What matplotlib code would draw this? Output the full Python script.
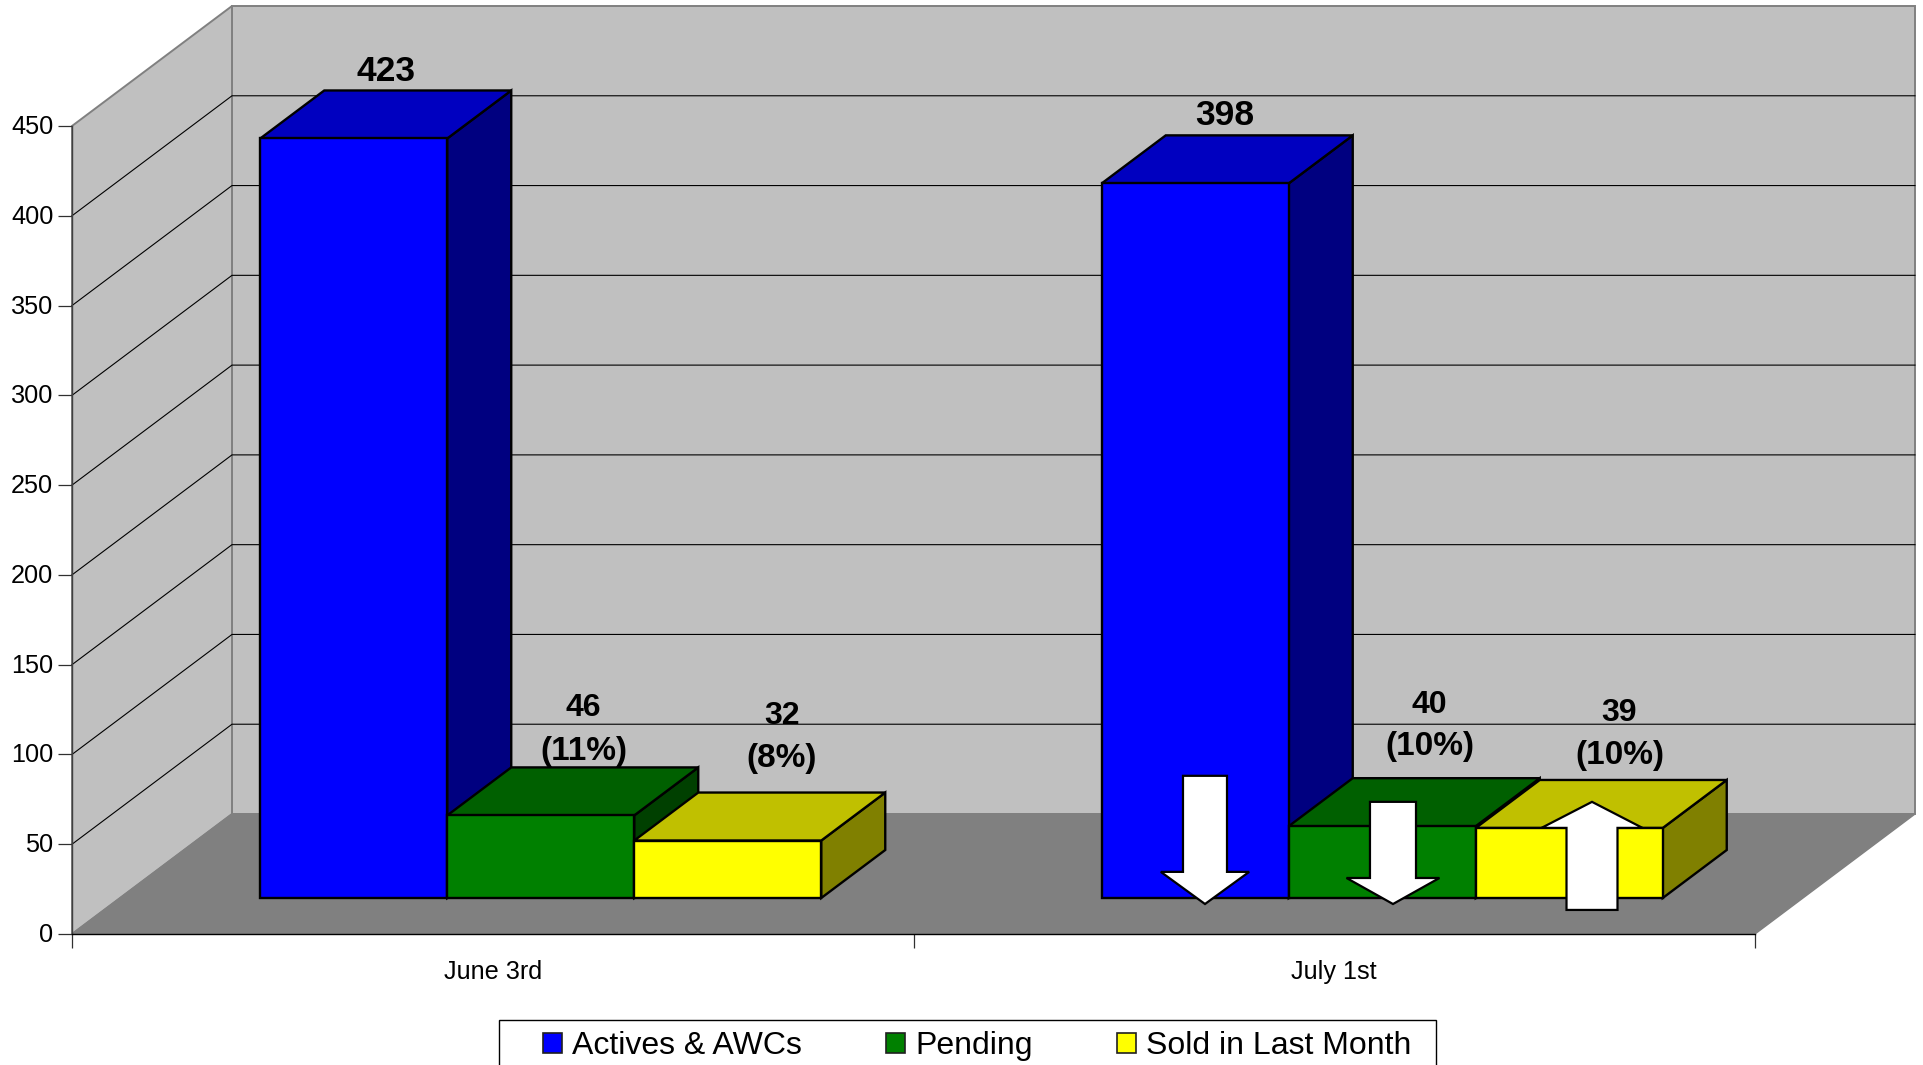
#!/usr/bin/python3
from matplotlib import pyplot as plt
from matplotlib.patches import FancyArrow, Polygon, Rectangle
from matplotlib.transforms import ScaledTranslation

categories = ['June 3rd', 'July 1st']
series_names = ['Actives & AWCs', 'Pending', 'Sold in Last Month']
actives = [423, 398]
pending = [46, 40]
sold = [32, 39]
pending_pct = ['(11%)', '(10%)']
sold_pct = ['(8%)', '(10%)']
y_ticks = [0, 50, 100, 150, 200, 250, 300, 350, 400, 450]

# front, top and side colour of each series
front_colors = ['#0000ff', '#008000', '#ffff00']
top_colors = ['#0000c0', '#006000', '#c0c000']
side_colors = ['#000080', '#004000', '#808000']

W, H = 1923, 1065
LEFT, RIGHT, BOTTOM, TOP = 72, 1755, 934, 126
# how far the back of the box sits from the front, in data units
DEPTH_X = 160 / ( ( RIGHT - LEFT ) / 2 )
DEPTH_Y = 120 / ( ( BOTTOM - TOP ) / 450 )
BAR_NEAR, BAR_FAR = 0.3, 0.7
BAR_W = 2 / 9
GROUP_GAP = 1 / 6

plt.rcParams['font.family'] = ['Liberation Sans', 'DejaVu Sans']


def proj( x, v, d ):
  return x + d * DEPTH_X, v + d * DEPTH_Y


def face( ax, points, color, edge='black', lw=1.7, z=2 ):
  ax.add_patch( Polygon( [ proj( *p ) for p in points ], closed=True, facecolor=color,
                         edgecolor=edge, linewidth=lw, joinstyle='miter', clip_on=False, zorder=z ) )


def bar3d( ax, x, v, i, z ):
  n, f = BAR_NEAR, BAR_FAR
  w = BAR_W
  face( ax, [ ( x + w, 0, n ), ( x + w, 0, f ), ( x + w, v, f ), ( x + w, v, n ) ], side_colors[i], z=z )
  face( ax, [ ( x, v, n ), ( x, v, f ), ( x + w, v, f ), ( x + w, v, n ) ], top_colors[i], z=z )
  face( ax, [ ( x, 0, n ), ( x + w, 0, n ), ( x + w, v, n ), ( x, v, n ) ], front_colors[i], z=z )


def label( ax, x, v, text, dx, dy, size ):
  ax.annotate( text, xy=proj( x + BAR_W / 2, v, 0.5 ), xytext=( dx, dy ), textcoords='offset pixels',
               ha='center', va='center', fontsize=size, fontweight='bold', zorder=20, annotation_clip=False )


def arrow( ax, x, tail, tip, base, shaft, head ):
  ax.add_patch( FancyArrow( x, tail, 0, tip - tail, width=shaft, head_width=head, head_length=abs( tip - base ),
                            length_includes_head=True, facecolor='white', edgecolor='black', linewidth=1.6,
                            joinstyle='miter', clip_on=False, zorder=15 ) )


fig = plt.figure( figsize=( W / 100, H / 100 ), dpi=100, facecolor='white' )
ax = fig.add_axes( [ LEFT / W, 1 - BOTTOM / H, ( RIGHT - LEFT ) / W, ( BOTTOM - TOP ) / H ] )
ax.set_xlim( 0, len( categories ) )
ax.set_ylim( 0, y_ticks[-1] )
ax.patch.set_visible( False )
for name in [ 'top', 'right' ]:
  ax.spines[name].set_visible( False )
ax.spines['left'].set_color( '#404040' )
ax.spines['left'].set_linewidth( 1.0 )
ax.spines['bottom'].set_color( 'black' )
ax.spines['bottom'].set_linewidth( 1.0 )
ax.spines['left'].set_zorder( 3 )
ax.spines['bottom'].set_zorder( 3 )

# walls and floor
top = y_ticks[-1]
n_cat = len( categories )
face( ax, [ ( 0, 0, 1 ), ( n_cat, 0, 1 ), ( n_cat, top, 1 ), ( 0, top, 1 ) ], '#c0c0c0', edge='#808080', lw=1.4, z=0.5 )
face( ax, [ ( 0, 0, 0 ), ( 0, 0, 1 ), ( 0, top, 1 ), ( 0, top, 0 ) ], '#c0c0c0', edge='#808080', lw=1.4, z=0.6 )
face( ax, [ ( 0, 0, 0 ), ( n_cat, 0, 0 ), ( n_cat, 0, 1 ), ( 0, 0, 1 ) ], '#808080', edge='#808080', lw=1.0, z=0.7 )

for v in y_ticks[1:-1]:
  xs, ys = zip( proj( 0, v, 0 ), proj( 0, v, 1 ), proj( n_cat, v, 1 ) )
  ax.plot( xs, ys, color='black', linewidth=0.8, clip_on=False, zorder=1, solid_joinstyle='miter' )

# bars, left to right so that each one covers the side of the one before
z = 2
for c in range( n_cat ):
  for i, values in enumerate( [ actives, pending, sold ] ):
    bar3d( ax, c + GROUP_GAP + i * BAR_W, values[c], i, z )
    z += 0.1

# data labels
g = GROUP_GAP
label( ax, 0 + g, actives[0], str( actives[0] ), 0, 43, 25.5 )
label( ax, 1 + g, actives[1], str( actives[1] ), -2, 44, 25.5 )
label( ax, 0 + g + BAR_W, pending[0], str( pending[0] ), 11, 83, 23 )
label( ax, 0 + g + BAR_W, pending[0], pending_pct[0], 11, 40, 24 )
label( ax, 0 + g + 2 * BAR_W, sold[0], str( sold[0] ), 22, 101, 23 )
label( ax, 0 + g + 2 * BAR_W, sold[0], sold_pct[0], 22, 58, 24 )
label( ax, 1 + g + BAR_W, pending[1], str( pending[1] ), 15, 97, 23 )
label( ax, 1 + g + BAR_W, pending[1], pending_pct[1], 16, 56, 24 )
label( ax, 1 + g + 2 * BAR_W, sold[1], str( sold[1] ), 18, 91, 23 )
label( ax, 1 + g + 2 * BAR_W, sold[1], sold_pct[1], 19, 48, 24 )

# white change arrows, drawn over July
arrow( ax, 1.3464, 88.1, 16.7, 34.6, 0.0523, 0.105 )
arrow( ax, 1.5698, 73.6, 16.7, 31.2, 0.0547, 0.1105 )
arrow( ax, 1.8063, 13.4, 73.6, 59.1, 0.0606, 0.12 )

# axes ticks
ax.set_yticks( y_ticks )
ax.tick_params( axis='y', length=10, width=0.9, color='#303030', pad=3.5, labelsize=18.2 )
ax.set_xticks( range( n_cat + 1 ) )
ax.set_xticklabels( [] )
ax.set_xticks( [ c + 0.5 for c in range( n_cat ) ], labels=categories, minor=True )
ax.tick_params( axis='x', which='major', length=10, width=0.9, color='#303030' )
ax.tick_params( axis='x', which='minor', length=0, pad=19, labelsize=18.2 )
nudge = ScaledTranslation( 0, 1.5 / 100, fig.dpi_scale_trans )
for tick_label in ax.get_yticklabels():
  tick_label.set_transform( tick_label.get_transform() + nudge )

# legend box runs off the bottom of the picture
fig.add_artist( Rectangle( ( 499 / W, 1 - 1085 / H ), ( 1436 - 499 ) / W, ( 1085 - 1020 ) / H, transform=fig.transFigure,
                           facecolor='white', edgecolor='black', linewidth=1.0 ) )
handles = [ Rectangle( ( 0, 0 ), 1, 1, facecolor=c, edgecolor='#202020', linewidth=1.2 ) for c in front_colors ]
fig.legend( handles, series_names, ncol=3, loc='center', bbox_to_anchor=( 977 / W, 1 - 1046 / H ), frameon=False,
            fontsize=23, handlelength=0.6, handleheight=0.6, handletextpad=0.3, columnspacing=2.65, borderpad=0 )

fig.savefig( 'out.png', dpi=100, facecolor='white' )
